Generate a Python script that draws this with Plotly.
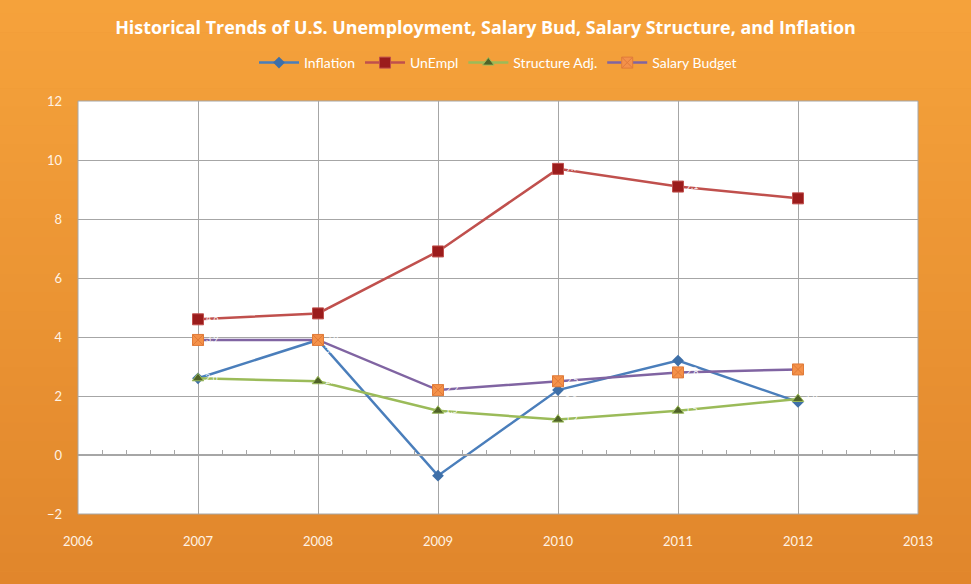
import plotly.graph_objects as go

years = [2007, 2008, 2009, 2010, 2011, 2012]
inflation = [2.6, 3.9, -0.7, 2.2, 3.2, 1.8]
unempl = [4.6, 4.8, 6.9, 9.7, 9.1, 8.7]
structure_adj = [2.6, 2.5, 1.5, 1.2, 1.5, 1.9]
salary_budget = [3.9, 3.9, 2.2, 2.5, 2.8, 2.9]

series_names = ["Inflation", "UnEmpl", "Structure Adj.", "Salary Budget"]
title_text = "Historical Trends of U.S. Unemployment, Salary Bud, Salary Structure, and Inflation"

FONT = "Lato, Open Sans, sans-serif"
TFONT = "Open Sans, sans-serif"

fig = go.Figure()

styles = [
    (inflation, dict(color="#4A7EBB", width=2.5), dict(symbol="diamond", size=9, color="#3E6FA8"), "bottom right"),
    (unempl, dict(color="#C0504D", width=2.5), dict(symbol="square", size=11, color="#9B1C1C", line=dict(color="#C0504D", width=1)), "middle right"),
    (structure_adj, dict(color="#9BBB59", width=2.5), dict(symbol="triangle-up", size=10, color="#4F6228", line=dict(color="#9BBB59", width=1)), "middle right"),
    (salary_budget, dict(color="#8064A2", width=2.5), dict(symbol="square-x", size=11, color="#F4914A", line=dict(color="#E07B39", width=1)), "middle right"),
]

for name, (vals, ln, mk, tp) in zip(series_names, styles):
    fig.add_trace(go.Scatter(
        x=years, y=vals, name=name, mode="lines+markers+text",
        line=ln, marker=mk,
        text=[f"{v:g}" for v in vals], textposition=tp,
        textfont=dict(color="rgba(255,255,255,0.9)", size=9, family=FONT),
        cliponaxis=False,
    ))

# helper trace for the zero-crossing axis with minor ticks
fig.add_trace(go.Scatter(x=[2006, 2013], y=[0, 0], xaxis="x2", mode="lines",
                         line=dict(width=0, color="rgba(0,0,0,0)"), showlegend=False,
                         hoverinfo="skip"))

# gradient background bands
shapes = []
n = 40
top = (246, 163, 60)
bot = (220, 128, 40)
for i in range(n):
    t = i / (n - 1)
    c = tuple(round(top[k] + (bot[k] - top[k]) * t) for k in range(3))
    shapes.append(dict(type="rect", xref="paper", yref="paper",
                       x0=-0.2, x1=1.2, y0=1.3 - (i + 1) * 1.8 / n, y1=1.3 - i * 1.8 / n + 0.001,
                       fillcolor="rgb(%d,%d,%d)" % c, line=dict(width=0), layer="below"))
shapes.append(dict(type="rect", xref="x domain", yref="y domain", x0=0, x1=1, y0=0, y1=1,
                   fillcolor="white", line=dict(width=1, color="#A6A6A6"), layer="below"))

fig.update_layout(
    width=971, height=584,
    margin=dict(l=78, r=53, t=101, b=70, autoexpand=False),
    paper_bgcolor="#EC9434",
    plot_bgcolor="white",
    shapes=shapes,
    title=dict(text="<b>" + title_text + "</b>", x=0.5, xanchor="center", y=0.953, yanchor="middle",
               font=dict(family=TFONT, size=17.9, color="white")),
    legend=dict(orientation="h", x=0.5, xanchor="center", y=1.092, yanchor="middle",
                font=dict(family=FONT, size=14, color="white"), bgcolor="rgba(0,0,0,0)",
                itemwidth=40),
    xaxis=dict(range=[2006, 2013], dtick=1, tick0=2006, showgrid=True, gridcolor="#A6A6A6",
               gridwidth=1, zeroline=False, showline=False, ticks="", automargin=False,
               tickfont=dict(family=FONT, size=13, color="#FFF3E4"), ticklabelstandoff=18),
    xaxis2=dict(range=[2006, 2013], overlaying="x", anchor="free", position=2 / 14, side="bottom",
                showgrid=False, zeroline=False, showticklabels=False, showline=True, automargin=False,
                linecolor="#A6A6A6", linewidth=1.5, ticks="inside", ticklen=4, tickcolor="#A6A6A6",
                dtick=0.2, tick0=2006),
    yaxis=dict(range=[-2, 12], dtick=2, showgrid=True, gridcolor="#A6A6A6", gridwidth=1,
               zeroline=False, showline=False, ticks="", automargin=False,
               tickfont=dict(family=FONT, size=13, color="#FFF3E4"), ticklabelstandoff=15),
    showlegend=True,
)

fig.write_html("out.html", post_script="document.body.style.margin='0';",
               config={"displayModeBar": False})
